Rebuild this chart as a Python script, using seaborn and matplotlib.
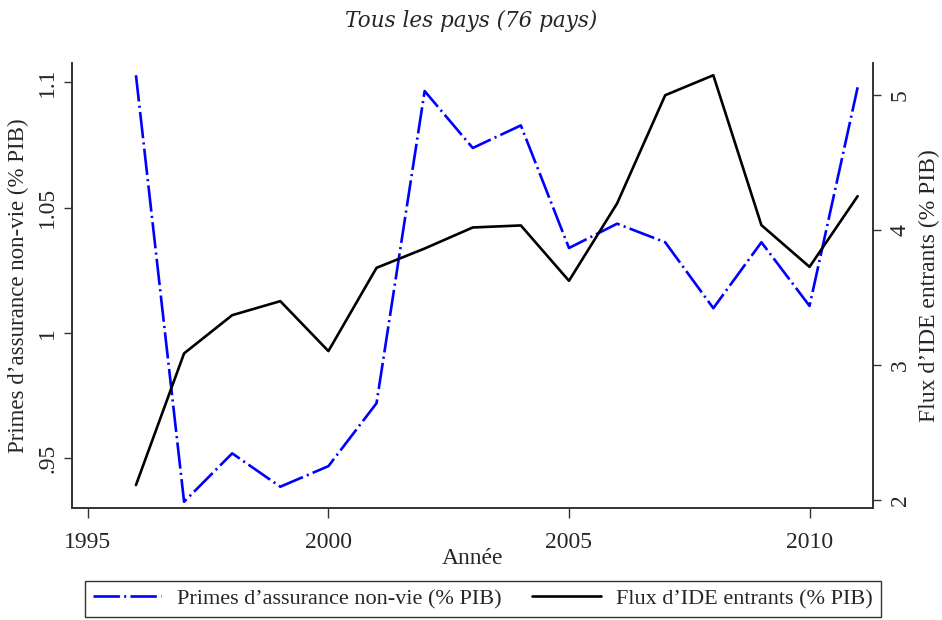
import matplotlib
matplotlib.use("Agg")
import matplotlib.pyplot as plt
import seaborn as sns
import pandas as pd

years = [1996, 1997, 1998, 1999, 2000, 2001, 2002, 2003, 2004, 2005, 2006, 2007, 2008, 2009, 2010, 2011]
primes = [1.1028, 0.9327, 0.952, 0.9387, 0.9469, 0.972, 1.0965, 1.0738, 1.0828, 1.0339, 1.0436, 1.0362, 1.0099, 1.0362, 1.0108, 1.098]
ide = [2.111, 3.087, 3.370, 3.474, 3.104, 3.721, 3.864, 4.020, 4.035, 3.625, 4.198, 5.0, 5.148, 4.037, 3.728, 4.252]
xticks = [1995, 2000, 2005, 2010]
lticks = [0.95, 1.0, 1.05, 1.1]
lticklabels = [".95", "1", "1.05", "1.1"]
rticks = [2, 3, 4, 5]

sns.set_theme(style="white")
plt.rcParams['font.family'] = ['Liberation Serif', 'DejaVu Serif']

df = pd.DataFrame({"year": years, "primes": primes, "ide": ide})

fig = plt.figure(figsize=(9.42, 6.2), dpi=100)
ax = fig.add_axes([0.0764, 0.1806, 0.8504, 0.7174])
ax2 = ax.twinx()

sns.lineplot(data=df, x="year", y="primes", ax=ax, color="#0000ff", lw=1.9,
             label="Primes d\u2019assurance non-vie (% PIB)", legend=False)
ax.lines[0].set_dashes((10, 1.6, 0.8, 1.6))
sns.lineplot(data=df, x="year", y="ide", ax=ax2, color="black", lw=1.9,
             label="Flux d\u2019IDE entrants (% PIB)", legend=False)

ax.set_xlim(1994.67, 2011.32)
ax.set_ylim(0.9302, 1.1076)
ax2.set_ylim(1.941, 5.237)

fs = 17
ax.set_xticks(xticks)
ax.set_xticklabels([str(t) for t in xticks], fontsize=fs)
ax.set_yticks(lticks)
ax.set_yticklabels(lticklabels, fontsize=fs, rotation=90, va="center")
ax2.set_yticks(rticks)
ax2.set_yticklabels([str(t) for t in rticks], fontsize=fs, rotation=90, va="center")

for a in (ax, ax2):
    a.tick_params(axis="both", direction="out", length=6, width=1, color="#333333", pad=5)
    for s in ("left", "right", "bottom"):
        a.spines[s].set_visible(True)
        a.spines[s].set_color("#333333")
        a.spines[s].set_linewidth(1.2)
    a.spines["top"].set_visible(False)
    a.grid(False)
ax.tick_params(axis="y", left=True, right=False, pad=4)
ax2.tick_params(axis="y", right=True, left=False, pad=6)
ax.tick_params(axis="x", bottom=True, length=7, pad=10)

ax.set_xlabel("Ann\u00e9e", fontsize=fs, labelpad=-3)
ax.set_ylabel("Primes d\u2019assurance non-vie (% PIB)", fontsize=16.5, labelpad=6)
ax2.set_ylabel("Flux d\u2019IDE entrants (% PIB)", fontsize=17, labelpad=6)

fig.text(0.5, 0.966, "Tous les pays (76 pays)", fontsize=15.5, style="italic",
         family="DejaVu Serif", ha="center", va="center")

h1, l1 = ax.get_legend_handles_labels()
h2, l2 = ax2.get_legend_handles_labels()
leg = fig.legend(h1 + h2, l1 + l2, loc="lower center", bbox_to_anchor=(0.5125, 0.005),
                 ncol=2, fontsize=16, frameon=True, fancybox=False, edgecolor="black",
                 handlelength=3.1, handletextpad=0.68, columnspacing=1.4, borderpad=0.35,
                 borderaxespad=0)
leg.get_frame().set_linewidth(1.0)

fig.savefig("out.png", dpi=100, facecolor="white")
